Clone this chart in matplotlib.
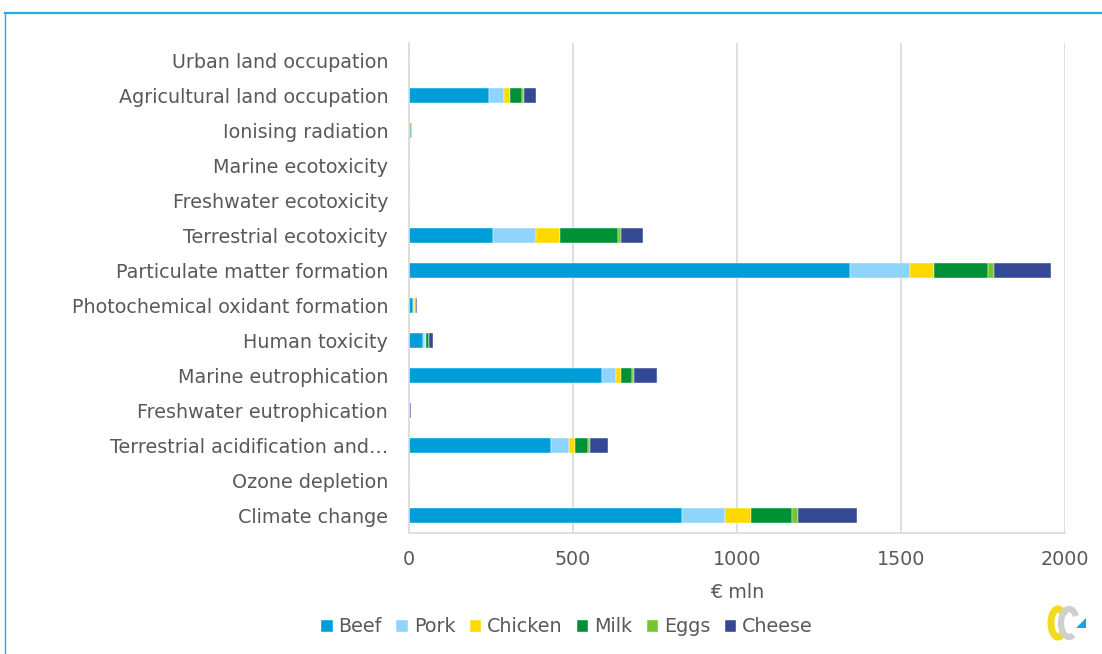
import matplotlib
matplotlib.use("Agg")
import matplotlib.pyplot as plt
import numpy as np
from matplotlib.patches import Arc, Polygon
from matplotlib.lines import Line2D

categories = [
    "Climate change",
    "Ozone depletion",
    "Terrestrial acidification and…",
    "Freshwater eutrophication",
    "Marine eutrophication",
    "Human toxicity",
    "Photochemical oxidant formation",
    "Particulate matter formation",
    "Terrestrial ecotoxicity",
    "Freshwater ecotoxicity",
    "Marine ecotoxicity",
    "Ionising radiation",
    "Agricultural land occupation",
    "Urban land occupation",
]

beef    = [831, 0.3, 433, 1.0, 588, 44, 13, 1345, 255, 0.5, 0.2, 1.0, 244, 0.1]
pork    = [132, 0.1,  56, 0.5,  42,  5,  3,  182, 132, 0.2, 0.1, 2.0,  47, 0.1]
chicken = [ 80, 0.1,  17, 0.3,  15,  3,  1,   74,  73, 0.1, 0.1, 0.5,  17, 0.0]
milk    = [125, 0.2,  41, 2.0,  34,  8,  3,  165, 178, 0.3, 0.1, 3.0,  37, 0.1]
eggs    = [ 19, 0.0,   5, 0.5,   8,  2,  1,   18,   7, 0.1, 0.0, 1.5,   5, 0.0]
cheese  = [179, 0.2,  54, 0.5,  68, 10,  2,  174,  67, 0.2, 0.1, 1.5,  37, 0.1]

series_names = ["Beef", "Pork", "Chicken", "Milk", "Eggs", "Cheese"]
series_values = [beef, pork, chicken, milk, eggs, cheese]
series_colors = ["#009ED9", "#8FD4FD", "#FFD800", "#009035", "#74C62E", "#344893"]

x_ticks = [0, 500, 1000, 1500, 2000]
x_label = "€ mln"

W, H = 1102, 654
fig = plt.figure(figsize=(W / 100, H / 100), dpi=100)
fig.patch.set_facecolor("white")

ax = fig.add_axes([409 / W, 1 - 533 / H, (1065 - 409) / W, (533 - 43) / H])

y = np.arange(len(categories))
left = np.zeros(len(categories))
for name, vals, col in zip(series_names, series_values, series_colors):
    vals = np.array(vals, dtype=float)
    ax.barh(y, vals, left=left, height=0.41, color=col, label=name,
            edgecolor="white", linewidth=0.3)
    left += vals

ax.set_ylim(-0.5, len(categories) - 0.5)
ax.set_xlim(0, 2000)
ax.set_xticks(x_ticks)
ax.set_yticks(y)
ax.set_yticklabels(categories)

text_col = "#595959"
ax.tick_params(axis="both", length=0, colors=text_col, labelsize=13.8)
ax.tick_params(axis="y", pad=15)
ax.tick_params(axis="x", pad=12)
ax.grid(axis="x", color="#D9D9D9", linewidth=1.2)
ax.set_axisbelow(True)
for side in ["top", "right"]:
    ax.spines[side].set_visible(False)
for side in ["left", "bottom"]:
    ax.spines[side].set_color("#D9D9D9")
    ax.spines[side].set_linewidth(1.2)

ax.set_xlabel(x_label, color=text_col, fontsize=13.8, labelpad=10)

leg = fig.legend(loc="center", bbox_to_anchor=(567 / W, 1 - 627 / H), ncol=6,
                 frameon=False, fontsize=13.8, handlelength=0.6, handleheight=0.6,
                 handletextpad=0.3, columnspacing=0.75)
for t in leg.get_texts():
    t.set_color(text_col)

# frame around the panel
fig.add_artist(Line2D([5 / W, 1.0], [1 - 12.5 / H, 1 - 12.5 / H],
                      transform=fig.transFigure, color="#1BAEE1", linewidth=1.6))
fig.add_artist(Line2D([5 / W, 5 / W], [0.0, 1 - 12.5 / H],
                      transform=fig.transFigure, color="#1BAEE1", linewidth=1.0))

# small logo at the bottom right
lax = fig.add_axes([1040 / W, 1 - 645 / H, 55 / W, 45 / H])
lax.set_xlim(0, 55)
lax.set_ylim(0, 45)
lax.set_aspect("equal")
lax.axis("off")
lax.add_patch(Arc((18, 22), 14, 28, theta1=50, theta2=300,
                  edgecolor="#F2DB1E", linewidth=5))
lax.add_patch(Arc((29, 22), 16, 28, theta1=45, theta2=290,
                  edgecolor="#CFCFCF", linewidth=4.5))
lax.add_patch(Polygon([[36, 17], [46, 17], [46, 27]], closed=True,
                      facecolor="#1AA3E0", edgecolor="none"))

fig.savefig("out.png", dpi=100, facecolor="white")
